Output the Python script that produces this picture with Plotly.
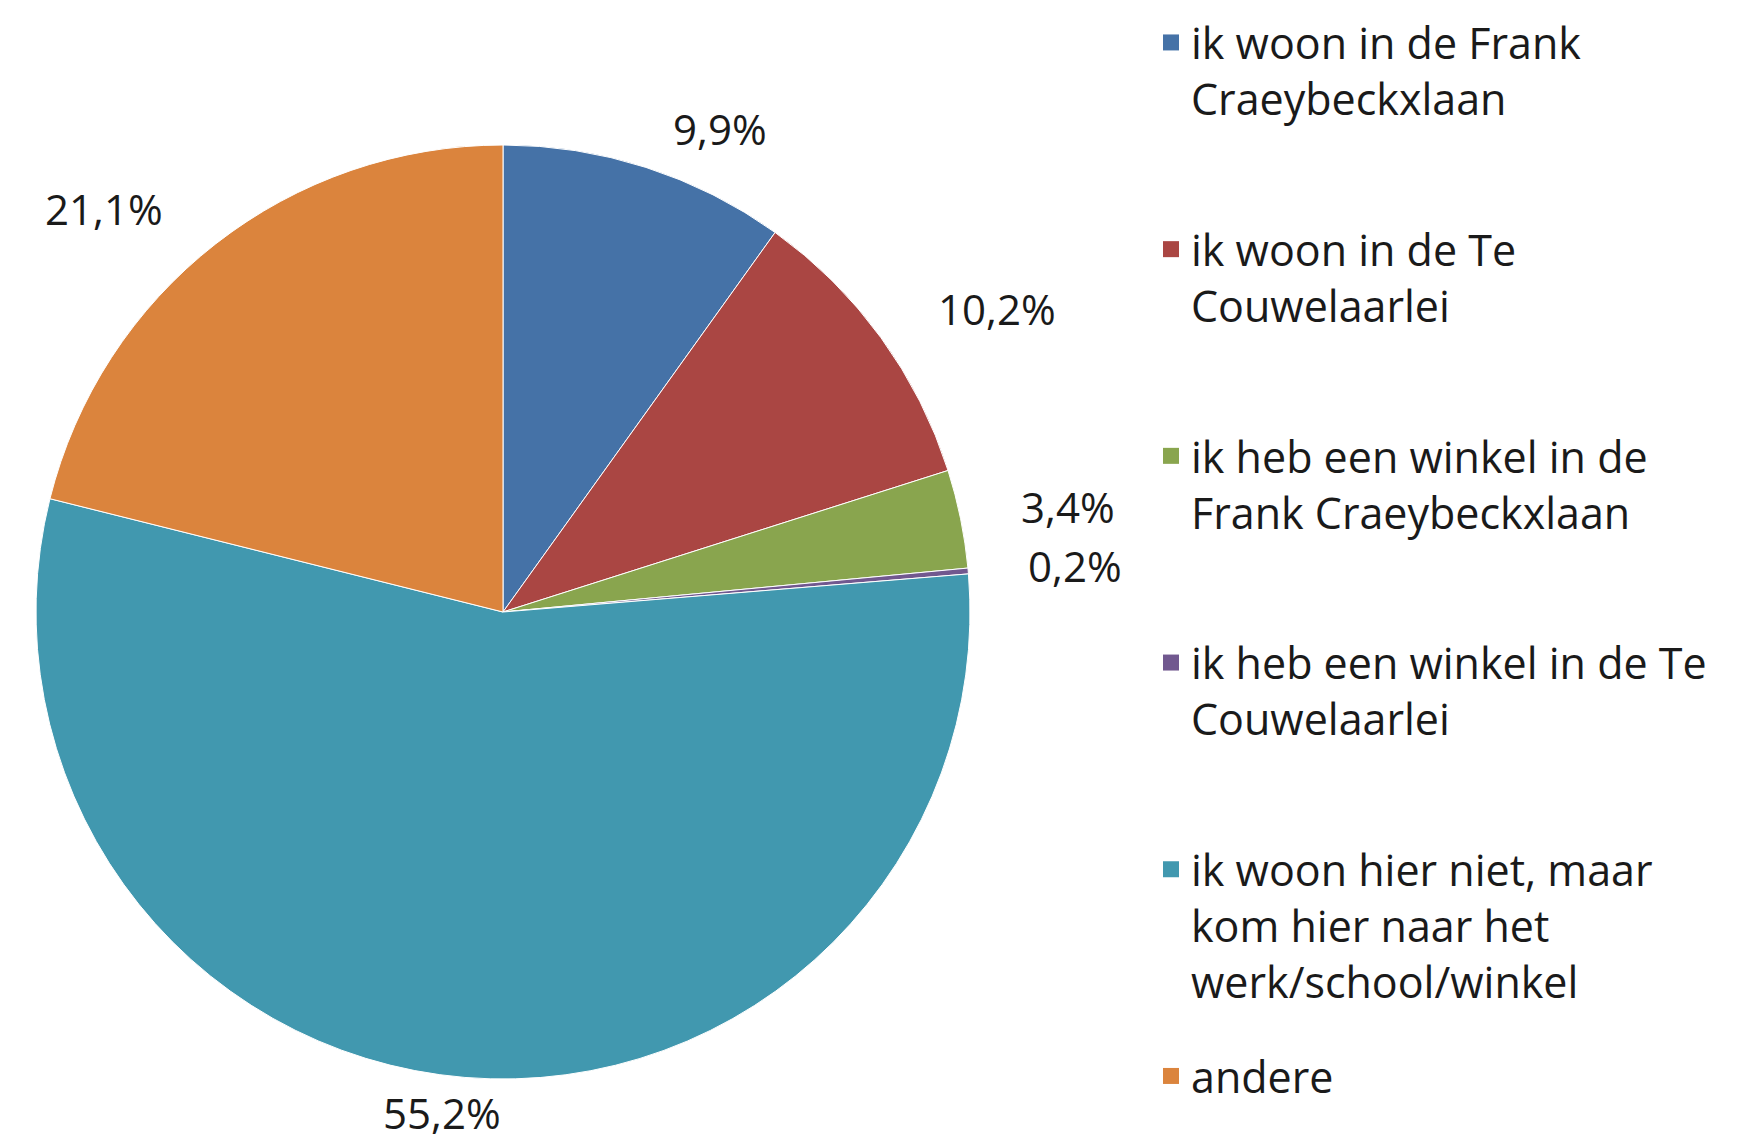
import math
import plotly.graph_objects as go

labels = [
    "ik woon in de Frank<br>Craeybeckxlaan",
    "ik woon in de Te<br>Couwelaarlei",
    "ik heb een winkel in de<br>Frank Craeybeckxlaan",
    "ik heb een winkel in de Te<br>Couwelaarlei",
    "ik woon hier niet, maar<br>kom hier naar het<br>werk/school/winkel",
    "andere",
]
values = [9.9, 10.2, 3.4, 0.2, 55.2, 21.1]
colors = ["#4572A7", "#AA4643", "#89A54E", "#71588F", "#4198AF", "#DB843D"]

FONT = "Open Sans"
FS = 42
LFS = 43
TXT = "#1a1a1a"

W, H = 1748, 1140
cx, cy, r = 495, 604, 467

fig = go.Figure()
fig.add_trace(go.Pie(
    labels=labels,
    values=values,
    sort=False,
    direction="clockwise",
    rotation=0,
    marker=dict(colors=colors, line=dict(color="#ffffff", width=1)),
    textinfo="none",
    automargin=False,
    showlegend=False,
    domain=dict(x=[(cx - r) / W, (cx + r) / W], y=[1 - (cy + r) / H, 1 - (cy - r) / H]),
    hoverinfo="skip",
))

# legend entries (one per slice), padded to equal height like the original legend
for i, (lab, col) in enumerate(zip(labels, colors)):
    n = lab.count("<br>") + 1
    pad = 0 if i == len(labels) - 1 else max(0, 3 - n)
    fig.add_trace(go.Scatter(
        x=[None], y=[None], mode="markers",
        marker=dict(symbol="square", size=16, color=col),
        name=lab + "<br>&nbsp;" * pad,
        legendgroup=f"g{i}", showlegend=True, hoverinfo="skip",
    ))

# data labels placed outside the slices ("best fit" style), at each slice's mid-angle
total = sum(values)
acc = 0.0
ccx, ccy = 495, 603
s = 1.1148
for v in values:
    mid = (acc + v / 2) / total * 2 * math.pi
    acc += v
    sn, cs = math.sin(mid), math.cos(mid)
    px = ccx + s * (690 * sn - 176 * sn * abs(sn))
    py = ccy - s * (471 * cs - 17 * cs * abs(cs))
    py = min(py, H - 36)
    fig.add_annotation(
        x=px / W, y=1 - py / H, xref="paper", yref="paper",
        text=f"{v:.1f}".replace(".", ",") + "%",
        showarrow=False, xanchor="center", yanchor="middle",
        font=dict(size=FS, family=FONT, color=TXT),
    )

fig.update_layout(
    width=W, height=H,
    margin=dict(l=0, r=0, t=0, b=0),
    paper_bgcolor="white",
    plot_bgcolor="white",
    font=dict(family=FONT, size=FS, color=TXT),
    xaxis=dict(visible=False),
    yaxis=dict(visible=False),
    legend=dict(
        x=1143 / W, y=1 - 1100 / H, xanchor="left", yanchor="bottom",
        valign="top",
        font=dict(size=LFS, family=FONT, color=TXT),
        traceorder="grouped",
        tracegroupgap=36,
        bgcolor="rgba(0,0,0,0)",
    ),
    showlegend=True,
)

fig.write_html("out.html")
